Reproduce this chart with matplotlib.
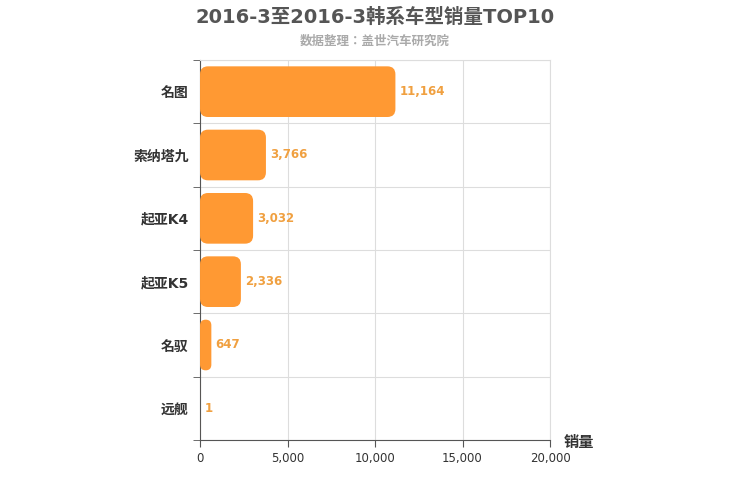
import matplotlib
matplotlib.use("Agg")
import matplotlib.pyplot as plt
from matplotlib.patches import FancyBboxPatch

plt.rcParams["font.family"] = ["DejaVu Sans", "Noto Sans CJK JP", "Noto Sans CJK SC",
                               "Noto Sans CJK TC", "Noto Sans CJK KR"]

categories = ["名图", "索纳塔九", "起亚K4", "起亚K5", "名驭", "远舰"]
values = [11164, 3766, 3032, 2336, 647, 1]
xticks = [0, 5000, 10000, 15000, 20000]

fig = plt.figure(figsize=(7.5, 5), dpi=100)
ax = fig.add_axes([0.2667, 0.12, 0.4667, 0.76])
ax.set_xlim(0, 20000)
n = len(categories)
ax.set_ylim(n - 0.5, -0.5)

xpp = 20000 / 350.0
ypp = n / 380.0
aspect = ypp / xpp
for i, v in enumerate(values):
    h = 0.8
    r = min(8 * xpp, v / 2.0, (h / 2) / aspect)
    p = FancyBboxPatch((0, i - h / 2), v, h,
                       boxstyle=f"round,pad=0,rounding_size={r}",
                       mutation_aspect=aspect, fc="#ff9933", ec="none", zorder=3)
    ax.add_patch(p)
    ax.text(v + 250, i, f"{v:,}", va="center", ha="left", color="#f0a040",
            fontsize=8.5, fontweight="bold", zorder=4)

ax.set_yticks(range(n))
ax.set_yticklabels(categories, fontsize=10, fontweight="bold", color="#333333")
ax.set_yticks([i + 0.5 for i in range(-1, n)], minor=True)
ax.tick_params(axis="y", which="major", length=0, pad=8)
ax.tick_params(axis="y", which="minor", length=5, color="#555555")
ax.set_xticks(xticks)
ax.set_xticklabels([f"{t:,}" for t in xticks], fontsize=8.5, color="#333333")
ax.tick_params(axis="x", length=5, color="#555555")
ax.grid(axis="x", color="#dddddd", zorder=0)
ax.grid(axis="y", which="minor", color="#dddddd", zorder=0)
for s in ["top", "right"]:
    ax.spines[s].set_color("#dddddd")
ax.spines["bottom"].set_color("#555555")
ax.spines["left"].set_color("#555555")
ax.set_axisbelow(True)

fig.text(0.752, 0.105, "销量", fontsize=11, fontweight="bold", color="#333333")
fig.text(0.5, 0.965, "2016-3至2016-3韩系车型销量TOP10", ha="center", va="center",
         fontsize=14, fontweight="bold", color="#555555")
fig.text(0.5, 0.918, "数据整理：盖世汽车研究院", ha="center", va="center",
         fontsize=9, fontweight="bold", color="#aaaaaa")
fig.savefig("out.png", dpi=100)
